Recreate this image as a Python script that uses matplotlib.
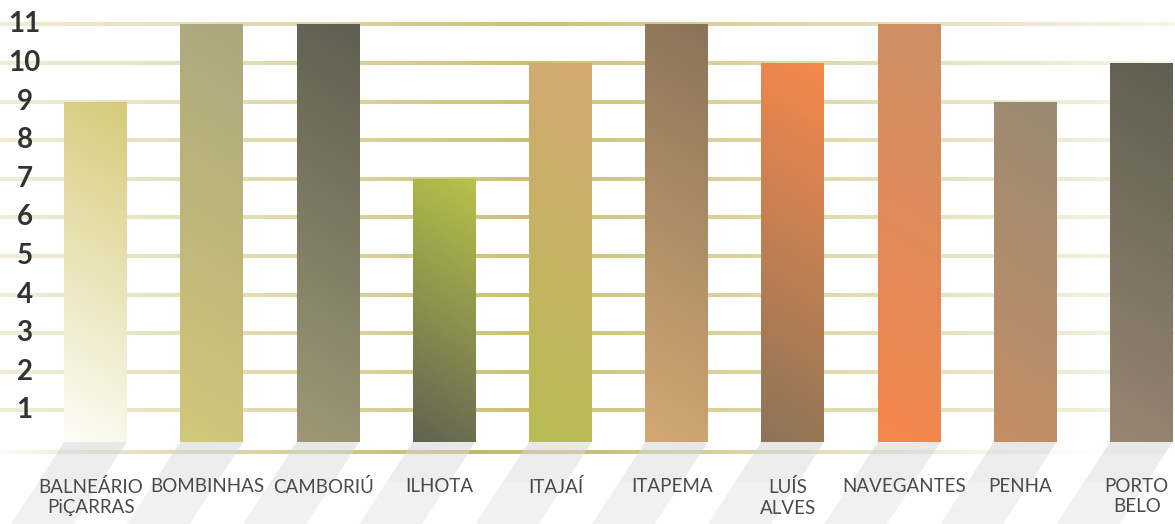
import numpy as np
import matplotlib
matplotlib.use('Agg')
import matplotlib.pyplot as plt
from matplotlib.collections import LineCollection
from matplotlib.patches import Polygon
from matplotlib.colors import to_rgb

# data
cities = ['BALNEÁRIO\nPiÇARRAS', 'BOMBINHAS', 'CAMBORIÚ', 'ILHOTA', 'ITAJAÍ',
          'ITAPEMA', 'LUÍS\nALVES', 'NAVEGANTES', 'PENHA', 'PORTO\nBELO']
values = [9, 11, 11, 7, 10, 11, 10, 11, 9, 10]
y_ticks = list(range(1, 12))

# gradient colours per bar (top, bottom)
top_colors = ['#d6ca78', '#aba77d', '#5f5f52', '#b8c248', '#d4a872',
              '#8a7459', '#f6884c', '#cd8f66', '#998a72', '#5f5f51']
bottom_colors = ['#fefdf8', '#d2c779', '#9e9876', '#626252', '#b8bd55',
                 '#d3a874', '#8c7558', '#f5874d', '#c58e65', '#988672']

# pixel layout of the figure
W, H = 1175, 524
PX_X0, PX_DX = 95.5, 116.2     # centre of first bar, bar spacing
PX_Y0, PX_DY = 449.0, 38.6     # y of value 0, pixels per unit
BAR_BOTTOM = 0.18
BAR_W = 0.54

fig = plt.figure(figsize=(W / 100, H / 100), dpi=100)
ax = fig.add_axes([0, 0, 1, 1])
ax.set_xlim(-PX_X0 / PX_DX, (W - PX_X0) / PX_DX)
ax.set_ylim((PX_Y0 - H) / PX_DY, PX_Y0 / PX_DY)
ax.axis('off')

x_px = np.linspace(0, W, 300)
x_data = (x_px - PX_X0) / PX_DX


def grad_line(y, color, xs, alphas, lw, z):
    a = np.interp(x_px, xs, alphas)
    pts = np.column_stack([x_data, np.full_like(x_data, y)])
    segs = np.stack([pts[:-1], pts[1:]], axis=1)
    rgb = to_rgb(color)
    cols = [(rgb[0], rgb[1], rgb[2], (a[i] + a[i + 1]) / 2) for i in range(len(segs))]
    lc = LineCollection(segs, colors=cols, linewidths=lw, capstyle='butt', zorder=z)
    ax.add_collection(lc)


# grid lines
for v in y_ticks:
    grad_line(v, '#cbc074', [0, 290, 530, 630, 850, 950, 1175],
              [0.28, 0.6, 1.0, 0.85, 0.55, 0.45, 0.15], 2.9, 1)

# base line
grad_line(-0.09, '#c4b86c', [0, 100, 300, 450, 600, 800, 950, 1100, 1175],
          [0.05, 0.35, 0.7, 1.0, 0.9, 0.5, 0.2, 0.0, 0.0], 2.9, 1)

x = np.arange(len(values))
bars = ax.bar(x, np.array(values) - BAR_BOTTOM, bottom=BAR_BOTTOM, width=BAR_W,
              color='none', edgecolor='none', zorder=3)

# gradient fill, top-right -> bottom-left
for b, ct, cb in zip(bars, top_colors, bottom_colors):
    x0, y0 = b.get_x(), b.get_y()
    w, h = b.get_width(), b.get_height()
    ny, nx = 200, 40
    yy, xx = np.mgrid[0:1:ny * 1j, 0:1:nx * 1j]
    hp, wp = h * PX_DY, w * PX_DX
    t = (yy * hp + xx * wp * 0.6) / (hp + wp * 0.6)   # 1 at top-right
    t = t[::-1]
    c1, c0 = np.array(to_rgb(ct)), np.array(to_rgb(cb))
    img = c0 + (c1 - c0) * t[..., None]
    im = ax.imshow(img, extent=[x0, x0 + w, y0, y0 + h], aspect='auto',
                   interpolation='bilinear', zorder=3)
    im.set_clip_path(b)

# diagonal shadows under the bars
slope = 0.65
ymin = ax.get_ylim()[0]
for b in bars:
    x0, w, y0 = b.get_x(), b.get_width(), b.get_y()
    # (offset from bar bottom in px, alpha) bands, fading downwards
    for p_top, p_bot, alpha in [(0, 12, 0.55), (12, 40, 0.42), (40, 85, 0.34)]:
        y_top, y_bot = y0 - p_top / PX_DY, max(y0 - p_bot / PX_DY, ymin)
        d_top = p_top * slope / PX_DX
        d_bot = (y0 - y_bot) * PX_DY * slope / PX_DX
        poly = Polygon([[x0 - d_top, y_top], [x0 + w - d_top, y_top],
                        [x0 + w - d_bot, y_bot], [x0 - d_bot, y_bot]],
                       closed=True, facecolor='#d6d6d6', edgecolor='none',
                       alpha=alpha, zorder=2)
        ax.add_patch(poly)

# y labels
ylab_x = (24.5 - PX_X0) / PX_DX
for v in y_ticks:
    ax.text(ylab_x, v, str(v), ha='center', va='center', fontsize=20,
            fontweight='bold', family='Lato', color='#333333', zorder=5)

# city labels
lab_y = (PX_Y0 - 478) / PX_DY
for xi, name in zip(x, cities):
    ax.text(xi - 0.04, lab_y, name, ha='center', va='top', fontsize=13.5,
            family='Lato', color='#4a4a4a', linespacing=1.25, zorder=5)

plt.savefig('out.png', dpi=100)
